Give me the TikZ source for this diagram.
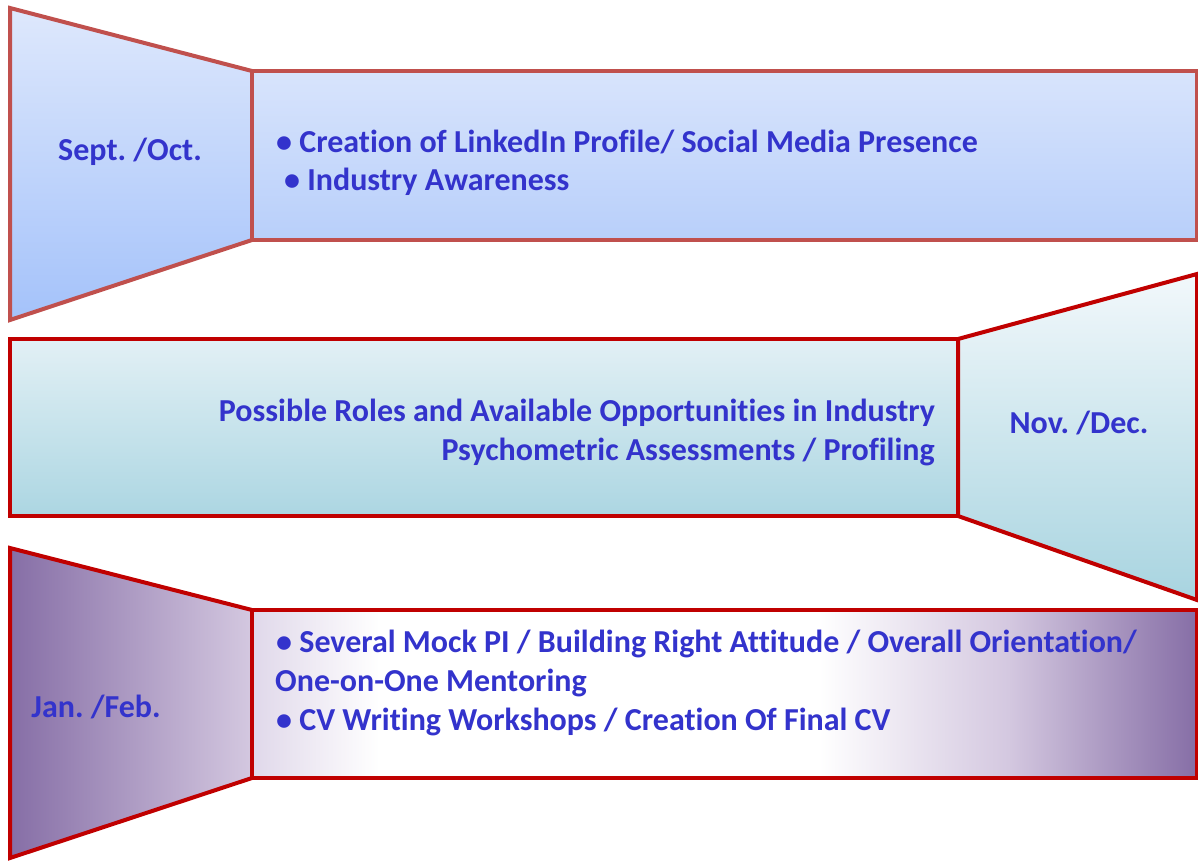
\documentclass[tikz,border=0pt]{standalone}
\usepackage{fontspec}
\setmainfont[Ligatures=NoCommon]{Carlito}
\frenchspacing
\usetikzlibrary{positioning}
\definecolor{txtblue}{RGB}{51,51,204}
\definecolor{edgeA}{RGB}{192,80,77}
\definecolor{edgeB}{RGB}{192,0,0}
\definecolor{blueTop}{RGB}{222,232,252}
\definecolor{blueBot}{RGB}{164,194,250}
\definecolor{rblueTop}{RGB}{216,228,252}
\definecolor{rblueBot}{RGB}{184,207,250}
\definecolor{tealTop}{RGB}{242,248,251}
\definecolor{tealBot}{RGB}{168,212,224}
\definecolor{rtealTop}{RGB}{226,240,245}
\definecolor{rtealBot}{RGB}{172,214,226}
\definecolor{purpDark}{RGB}{134,110,166}
\definecolor{purpLight}{RGB}{212,200,224}
\definecolor{purpEdge}{RGB}{224,216,234}
\pgfdeclarehorizontalshading{rowthree}{100bp}{color(0bp)=(purpEdge); color(25bp)=(purpEdge); color(31.75bp)=(white); color(55bp)=(white); color(65bp)=(purpLight); color(75bp)=(purpDark); color(100bp)=(purpDark)}
\tikzset{
  shapeA/.style={draw=edgeA, line width=4pt, line join=miter},
  shapeB/.style={draw=edgeB, line width=4pt, line join=miter},
  lbl/.style={text=txtblue, font=\fontsize{32}{38}\selectfont\bfseries, inner sep=0pt},
}
\begin{document}
\begin{tikzpicture}[x=1pt,y=-1pt]
\useasboundingbox (0,0) rectangle (1198,861);
% Row 1
\path[shapeA, top color=blueTop, bottom color=blueBot] (10,8) -- (252,71) -- (252,240) -- (10,320) -- cycle;
\path[shapeA, top color=rblueTop, bottom color=rblueBot] (252,71) rectangle (1197,240);
\node[lbl] (sept) at (130,152) {Sept. /Oct.};
\node[lbl, anchor=west] (r1a) at (276,142) {• Creation of LinkedIn Profile/ Social Media Presence};
\node[lbl, anchor=west] (r1b) at (284,182) {• Industry Awareness};
% Row 2
\path[shapeB, top color=rtealTop, bottom color=rtealBot] (10,339) rectangle (958,516);
\path[shapeB, top color=tealTop, bottom color=tealBot] (958,339) -- (1197,274) -- (1197,600) -- (958,516) -- cycle;
\node[lbl, anchor=east] (r2a) at (935,413) {Possible Roles and Available Opportunities in Industry};
\node[lbl, anchor=east] (r2b) at (935,452) {Psychometric Assessments / Profiling};
\node[lbl] (nov) at (1079,423) {Nov. /Dec.};
% Row 3
\path[shapeB, left color=purpDark, right color=purpLight] (10,548) -- (252,610) -- (252,778) -- (10,858) -- cycle;
\path[shapeB, shading=rowthree] (252,610) rectangle (1197,778);
\node[lbl] (jan) at (96,707) {Jan. /Feb.};
\node[lbl, anchor=west] (r3a) at (276,644) {• Several Mock PI / Building Right Attitude / Overall Orientation/};
\node[lbl, anchor=west] (r3b) at (275,683) {One-on-One Mentoring};
\node[lbl, anchor=west] (r3c) at (276,722) {• CV Writing Workshops / Creation Of Final CV};
\end{tikzpicture}
\end{document}
